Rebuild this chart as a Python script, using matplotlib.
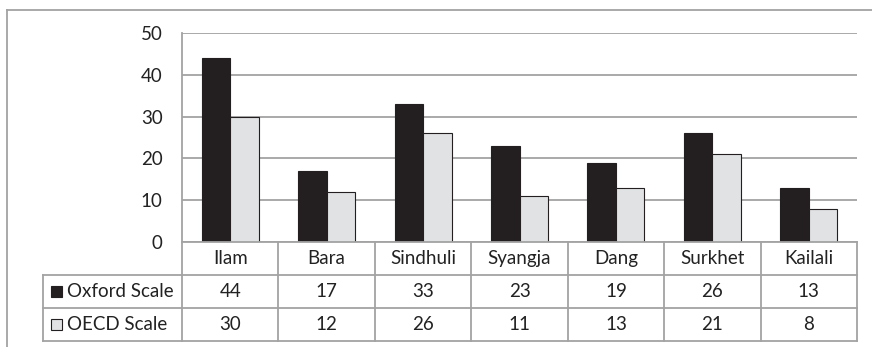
import matplotlib
matplotlib.use("Agg")
import matplotlib.pyplot as plt
import numpy as np
from matplotlib.lines import Line2D
from matplotlib.patches import Rectangle

districts = ["Ilam", "Bara", "Sindhuli", "Syangja", "Dang", "Surkhet", "Kailali"]
oxford = [44, 17, 33, 23, 19, 26, 13]
oecd = [30, 12, 26, 11, 13, 21, 8]
series_names = ["Oxford Scale", "OECD Scale"]

W, H = 872, 347
dark = "#231f20"
light = "#e1e2e4"
grid = "#a3a3a3"
fsize = 13.5

plt.rcParams["font.family"] = ["Lato", "DejaVu Sans"]
fig = plt.figure(figsize=(W / 100, H / 100), dpi=100)

def fx(x):
    return x / W

def fy(y):
    return 1 - y / H

def hline(x0, x1, y, **kw):
    fig.add_artist(Line2D([fx(x0), fx(x1)], [fy(y), fy(y)], color=grid, lw=1.3, **kw))

def vline(x, y0, y1, **kw):
    fig.add_artist(Line2D([fx(x), fx(x)], [fy(y0), fy(y1)], color=grid, lw=1.3, **kw))

# plot area in pixels
left, right, top, base = 182, 857, 33, 242
ax = fig.add_axes([fx(left), fy(base), fx(right - left), fy(top) - fy(base)])

x = np.arange(len(districts))
bw = 0.296
ax.bar(x - bw / 2, oxford, bw, color=dark, edgecolor=dark, lw=0.8, zorder=3)
ax.bar(x + bw / 2, oecd, bw, color=light, edgecolor=dark, lw=0.8, zorder=3)

ax.set_xlim(-0.5, len(districts) - 0.5)
ax.set_ylim(0, 50)
ax.set_yticks(range(0, 51, 10))
ax.set_xticks([])
ax.yaxis.grid(True, color=grid, lw=1.3, zorder=0)
for s in ["top", "right", "bottom"]:
    ax.spines[s].set_visible(False)
ax.spines["left"].set_color(grid)
ax.spines["left"].set_linewidth(1.3)
ax.tick_params(axis="y", length=0, pad=14, labelsize=fsize, labelcolor="#222222")

# outer chart border
hline(7, W, 10)
vline(7, 10, H)

# data table below the plot
rows = [base, 275, 308, 341]
col_w = (right - left) / len(districts)
cols = [left + i * col_w for i in range(len(districts) + 1)]
tleft = 43
hline(left, right, rows[0])
for y in rows[1:]:
    hline(tleft, right, y)
for c in cols:
    vline(c, rows[0], rows[-1])
vline(tleft, rows[1], rows[-1])

txt = dict(ha="center", va="center", fontsize=fsize, color="#222222")
for i, name in enumerate(districts):
    cx = fx(cols[i] + col_w / 2)
    fig.text(cx, fy((rows[0] + rows[1]) / 2), name, **txt)
    fig.text(cx, fy((rows[1] + rows[2]) / 2), str(oxford[i]), **txt)
    fig.text(cx, fy((rows[2] + rows[3]) / 2), str(oecd[i]), **txt)

for r, (name, fc) in enumerate(zip(series_names, [dark, light])):
    cy = (rows[r + 1] + rows[r + 2]) / 2
    fig.add_artist(Rectangle((fx(51), fy(cy + 5.5)), fx(11), fy(0) - fy(11),
                             facecolor=fc, edgecolor=dark, lw=0.8))
    fig.text(fx(67), fy(cy), name, ha="left", va="center", fontsize=fsize, color="#222222")

fig.savefig("out.png", dpi=100)
